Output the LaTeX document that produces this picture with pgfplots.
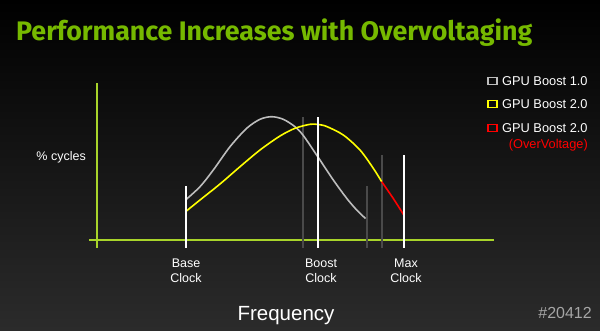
\documentclass[border=0pt]{standalone}
\usepackage{pgfplots}
\pgfplotsset{compat=1.18}
\usepackage{graphicx}
\usepackage{fontspec}
\setmainfont{Liberation Sans}
\newfontfamily\titlefont{Fira Sans}
\definecolor{nvgreen}{HTML}{76B900}
\definecolor{axgreen}{HTML}{A8D42A}
\definecolor{bggray}{HTML}{2B2B2B}
\definecolor{dgray}{HTML}{4A4A4A}
\definecolor{cgray}{HTML}{BDBDBD}
\definecolor{cyel}{HTML}{FFFF00}
\definecolor{cred}{HTML}{FF0000}
\begin{document}
\begin{tikzpicture}
\begin{axis}[
  x=1pt, y=1pt,
  scale only axis,
  xmin=0, xmax=600, ymin=0, ymax=330,
  y dir=reverse,
  hide axis,
  clip=false,
]
% background
\fill[top color=black, bottom color=bggray] (axis cs:0,0) rectangle (axis cs:600,330);

% green axes
\addplot[axgreen, line width=2.4pt] coordinates {(97,83) (97,248)};
\addplot[axgreen, line width=2.4pt] coordinates {(89,240) (494,240)};

% dark gray vertical lines
\addplot[dgray, line width=2pt] coordinates {(302.7,117) (302.7,248)};
\addplot[dgray, line width=2pt] coordinates {(366.7,186) (366.7,248)};
\addplot[dgray, line width=2pt] coordinates {(381.7,155) (381.7,248)};

% GPU Boost 1.0 curve
\addplot[cgray, line width=1.6pt, smooth] coordinates {
 (185.5,200) (200,186.7) (213.3,170) (230,146.7) (246.7,128.3) (260,119.3)
 (271.7,116.7) (283.3,119.3) (295,126.7) (303.3,135.5) (318.3,157.5)
 (333.3,180) (346.7,198.3) (356.7,210) (365.5,218.5)};

% GPU Boost 2.0 curve
\addplot[cyel, line width=1.6pt, smooth] coordinates {
 (185.5,211.7) (200,200) (220,184) (240,166.7) (260,150) (280,136)
 (295,128.3) (310,124.3) (318.3,124.5) (326.7,126.5) (343.3,135) (360,150)
 (373.3,168.3) (381.7,181.7)};

% Overvoltage segment
\addplot[cred, line width=1.6pt, smooth] coordinates {
 (381.7,181.7) (393.3,198.5) (404,215.3)};

% white vertical lines
\addplot[white, line width=2pt] coordinates {(185.5,186) (185.5,248)};
\addplot[white, line width=2pt] coordinates {(318.3,117) (318.3,248)};
\addplot[white, line width=2pt] coordinates {(404.3,155) (404.3,248)};

% title
\node[anchor=west, inner sep=0pt, text=nvgreen] at (axis cs:16,32.5)
  {\resizebox{516pt}{!}{\titlefont\bfseries Performance Increases with Overvoltaging}};

% y label
\node[anchor=east, inner sep=0pt, text=white, font=\fontsize{12.5}{14}\selectfont] at (axis cs:86,157) {\% cycles};

% tick labels
\node[align=center, inner sep=0pt, text=white, font=\fontsize{12.5}{15.5}\selectfont] at (axis cs:186,271) {Base\\Clock};
\node[align=center, inner sep=0pt, text=white, font=\fontsize{12.5}{15.5}\selectfont] at (axis cs:321,271) {Boost\\Clock};
\node[align=center, inner sep=0pt, text=white, font=\fontsize{12.5}{15.5}\selectfont] at (axis cs:406,271) {Max\\Clock};

% x label
\node[inner sep=0pt, text=white, font=\fontsize{20.5}{24}\selectfont] at (axis cs:286,316) {Frequency};

% legend
\draw[cgray, line width=1.5pt] (axis cs:488,77.5) rectangle (axis cs:497,84.5);
\node[anchor=west, inner sep=0pt, text=white, font=\fontsize{12.8}{14}\selectfont] at (axis cs:502,81) {GPU Boost 1.0};
\draw[cyel, line width=1.5pt] (axis cs:488,100.5) rectangle (axis cs:497,107.5);
\node[anchor=west, inner sep=0pt, text=white, font=\fontsize{12.8}{14}\selectfont] at (axis cs:502,104) {GPU Boost 2.0};
\draw[cred, line width=1.5pt] (axis cs:488,124.5) rectangle (axis cs:497,131.5);
\node[anchor=west, inner sep=0pt, text=white, font=\fontsize{12.8}{14}\selectfont] at (axis cs:502,128) {GPU Boost 2.0};
\node[anchor=east, inner sep=0pt, text=cred, font=\fontsize{12.8}{14}\selectfont] at (axis cs:588,145) {(OverVoltage)};

% watermark
\node[anchor=east, inner sep=0pt, text=gray!70, font=\fontsize{16}{18}\selectfont] at (axis cs:592,313) {\#20412};
\end{axis}
\end{tikzpicture}
\end{document}
